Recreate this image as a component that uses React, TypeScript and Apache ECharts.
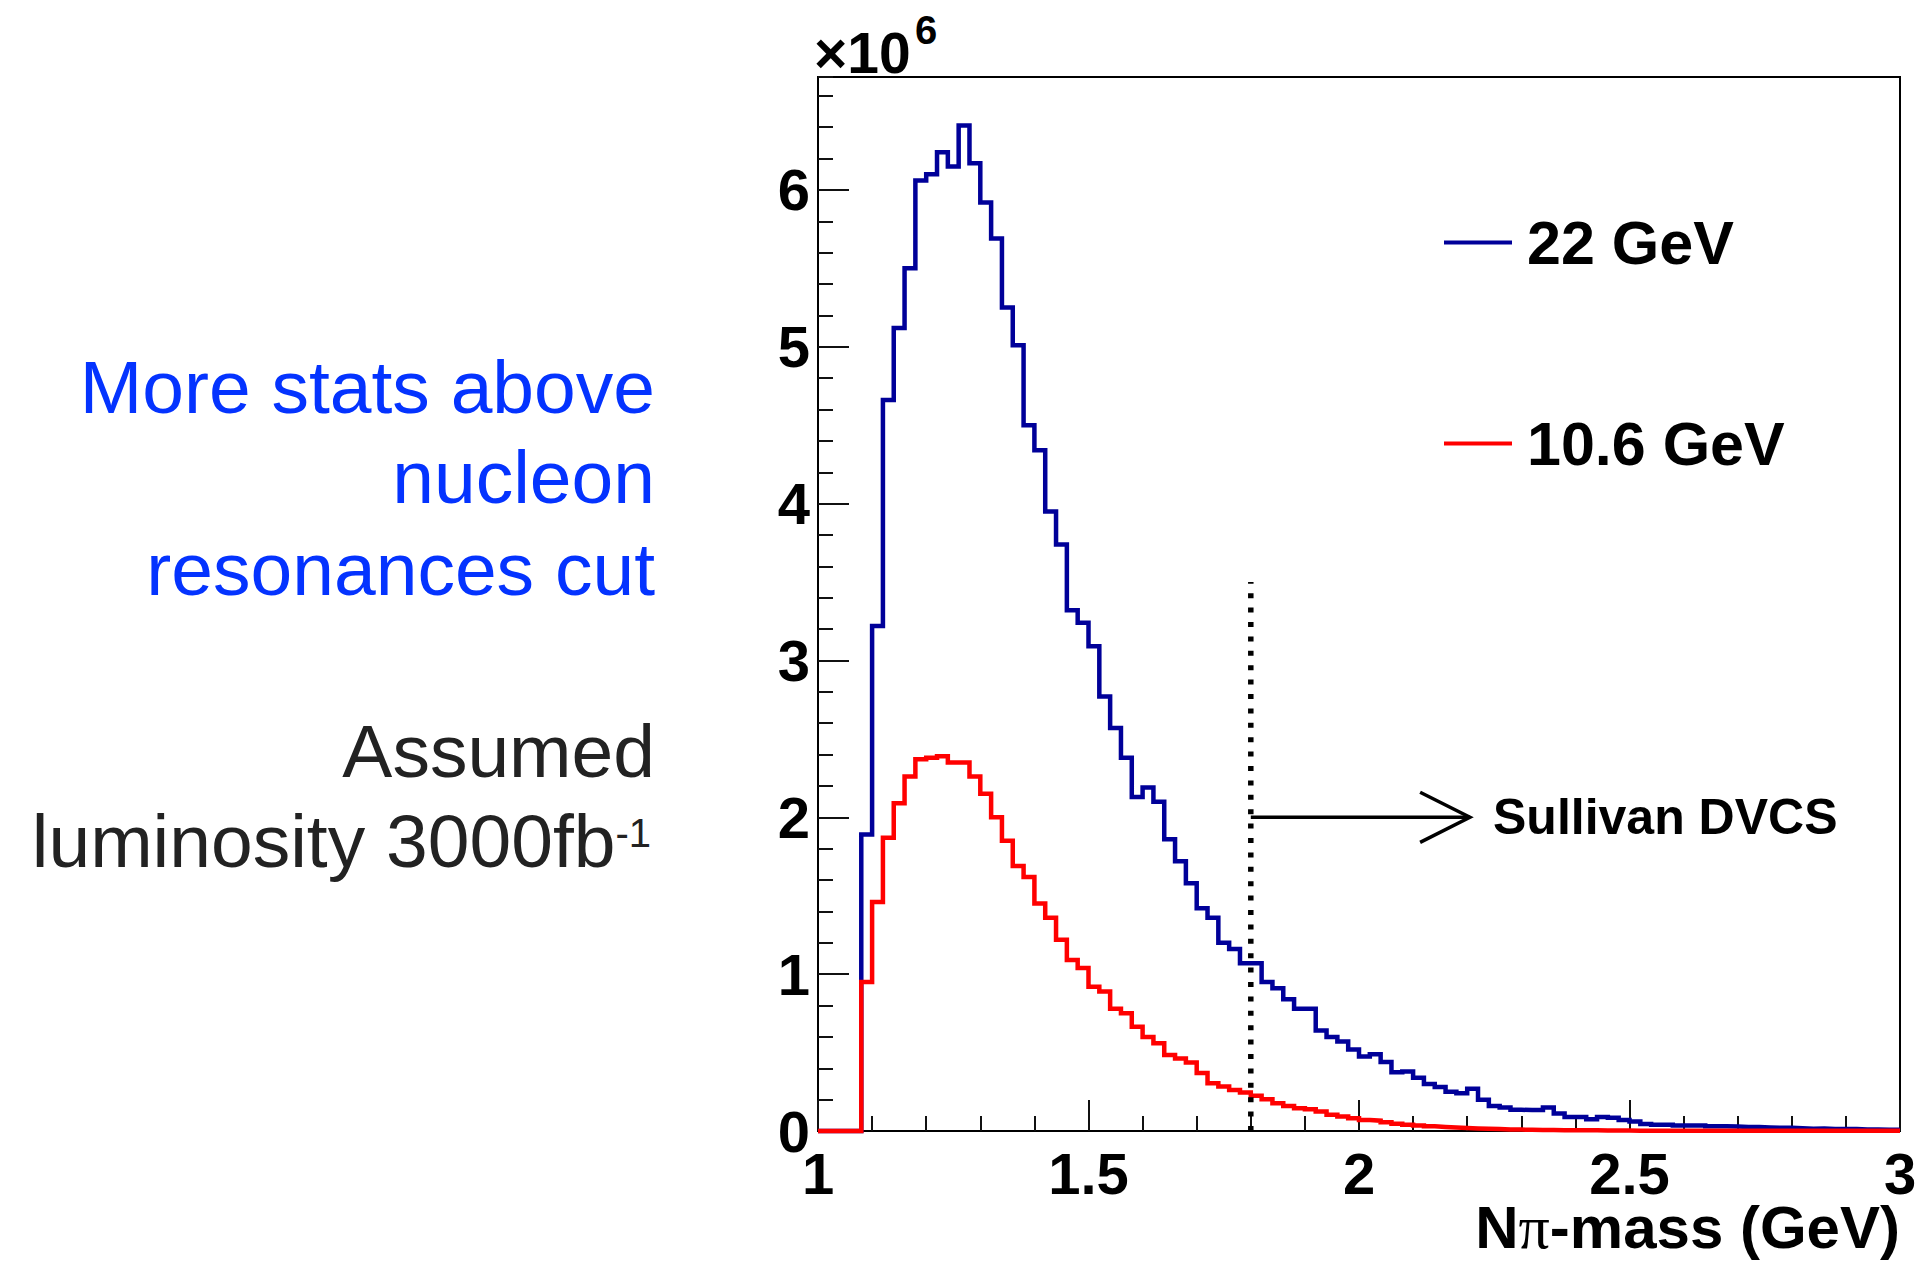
import React, { useEffect, useRef } from 'react';
import * as echarts from 'echarts';

const FONT = '"Liberation Sans", Arial, Helvetica, sans-serif';

// Histogram binning: 100 bins of 0.02 GeV between 1 and 3 GeV
const MASS_MIN = 1.0;
const MASS_MAX = 3.0;
const BIN_WIDTH = 0.02;

// Events per bin, in units of 10^6
const counts22GeV: number[] = [
  0, 0, 0, 0, 1.89, 3.22, 4.66, 5.12, 5.5, 6.06,
  6.1, 6.24, 6.15, 6.41, 6.17, 5.92, 5.69, 5.25, 5.01, 4.5,
  4.34, 3.95, 3.74, 3.32, 3.24, 3.09, 2.77, 2.57, 2.38, 2.13,
  2.19, 2.1, 1.86, 1.72, 1.58, 1.42, 1.36, 1.2, 1.16, 1.07,
  1.07, 0.95, 0.91, 0.84, 0.78, 0.78, 0.64, 0.6, 0.57, 0.52,
  0.475, 0.49, 0.44, 0.375, 0.38, 0.34, 0.3, 0.28, 0.25, 0.24,
  0.27, 0.2, 0.16, 0.15, 0.135, 0.134, 0.134, 0.15, 0.112, 0.09,
  0.09, 0.075, 0.09, 0.085, 0.07, 0.06, 0.045, 0.04, 0.04, 0.035,
  0.035, 0.035, 0.03, 0.03, 0.028, 0.025, 0.025, 0.022, 0.02, 0.02,
  0.018, 0.015, 0.016, 0.012, 0.012, 0.012, 0.01, 0.01, 0.008, 0.008,
];

const counts10p6GeV: number[] = [
  0, 0, 0, 0, 0.95, 1.46, 1.87, 2.09, 2.26, 2.37,
  2.38, 2.39, 2.35, 2.35, 2.26, 2.15, 2.0, 1.85, 1.69, 1.62,
  1.45, 1.36, 1.22, 1.09, 1.04, 0.92, 0.89, 0.78, 0.75, 0.665,
  0.6, 0.56, 0.485, 0.463, 0.436, 0.37, 0.305, 0.283, 0.262, 0.245,
  0.224, 0.202, 0.177, 0.16, 0.145, 0.139, 0.124, 0.103, 0.092, 0.081,
  0.07, 0.066, 0.055, 0.047, 0.04, 0.035, 0.03, 0.026, 0.022, 0.019,
  0.016, 0.014, 0.012, 0.01, 0.009, 0.008, 0.007, 0.006, 0.005, 0.005,
  0.004, 0.004, 0.003, 0.003, 0.003, 0.002, 0.002, 0.002, 0.002, 0.002,
  0.002, 0.002, 0.002, 0.002, 0.002, 0.001, 0.001, 0.001, 0.001, 0.001,
  0.001, 0.001, 0.001, 0.001, 0.001, 0.001, 0.001, 0.001, 0.001, 0.001,
];

const seriesNames = ['22 GeV', '10.6 GeV'];
const seriesColors = ['#000099', '#ff0000'];

// Axis ranges (y in units of 10^6)
const X_MIN = 1;
const X_MAX = 3;
const X_MAJOR = 0.5;
const Y_MIN = 0;
const Y_MAX = 6.72;
const Y_MAJOR = 1;
const Y_MINOR = 0.2;

// Sullivan DVCS cut annotation
const cutMass = 1.8;
const cutTop = 3.5;
const arrowLevel = 2.0;
const arrowTip = 2.205;
const arrowHeadDx = 0.092;
const arrowHeadDy = 0.16;
const cutLabel = 'Sullivan DVCS';

const noteLines = ['More stats above', 'nucleon', 'resonances cut'];
const lumiLines = ['Assumed', 'luminosity 3000fb'];
const lumiExponent = '-1';

// histogram outline: one point per bin low edge plus the closing upper edge
const toSteps = (counts: number[]) => {
  const pts: number[][] = counts.map((c, i) => [+(MASS_MIN + i * BIN_WIDTH).toFixed(2), c]);
  pts.push([MASS_MAX, counts[counts.length - 1]]);
  return pts;
};

const tickStyle = { color: '#111', width: 2 };

const legendFor = (name: string, top: number) => ({
  data: [name],
  left: 1444,
  top,
  orient: 'vertical',
  icon: 'rect',
  itemWidth: 68,
  itemHeight: 4,
  padding: 0,
  selectedMode: false,
  textStyle: {
    fontFamily: FONT,
    fontWeight: 'bold',
    fontSize: 61,
    lineHeight: 60,
    color: '#000',
    padding: [0, 0, 0, 10],
  },
});

const histSeries = (i: number, counts: number[]) => ({
  name: seriesNames[i],
  type: 'line',
  step: 'end',
  data: toSteps(counts),
  symbol: 'none',
  showSymbol: false,
  clip: false,
  silent: true,
  color: seriesColors[i],
  itemStyle: { color: seriesColors[i] },
  lineStyle: { color: seriesColors[i], width: 4.5, join: 'miter', cap: 'butt' },
  z: 3 + i,
});

const annotationLine = (data: number[][], width: number, type: any = 'solid') => ({
  type: 'line',
  data,
  symbol: 'none',
  showSymbol: false,
  silent: true,
  clip: false,
  lineStyle: { color: '#000', width, type, join: 'miter', cap: 'butt' },
  z: 6,
});

const noteText = (text: string, y: number, color: string) => ({
  type: 'text',
  x: 655,
  y,
  silent: true,
  style: {
    text,
    fill: color,
    fontFamily: FONT,
    fontSize: 75,
    align: 'right',
    verticalAlign: 'middle',
  },
});

const option: any = {
  animation: false,
  backgroundColor: '#ffffff',
  grid: {
    left: 818,
    top: 77,
    width: 1082,
    height: 1054,
    show: true,
    borderColor: '#000',
    borderWidth: 2,
    backgroundColor: 'transparent',
    containLabel: false,
    outerBoundsMode: 'none',
  },
  xAxis: {
    type: 'value',
    min: X_MIN,
    max: X_MAX,
    interval: X_MAJOR,
    axisLine: { show: true, onZero: false, lineStyle: { color: '#000', width: 2 } },
    axisTick: { show: true, inside: true, length: 31, lineStyle: tickStyle },
    minorTick: { show: true, splitNumber: 5, length: 15, lineStyle: tickStyle },
    splitLine: { show: false },
    minorSplitLine: { show: false },
    axisLabel: {
      margin: 19,
      fontFamily: FONT,
      fontWeight: 'bold',
      fontSize: 58,
      lineHeight: 46,
      color: '#000',
      showMinLabel: true,
      showMaxLabel: true,
      formatter: (v: number) => String(v),
    },
  },
  yAxis: [
    {
      type: 'value',
      position: 'left',
      min: Y_MIN,
      max: Y_MAX,
      interval: Y_MAJOR,
      axisLine: { show: true, onZero: false, lineStyle: { color: '#000', width: 2 } },
      axisTick: { show: true, inside: true, length: 31, lineStyle: tickStyle },
      splitLine: { show: false },
      axisLabel: {
        margin: 8,
        fontFamily: FONT,
        fontWeight: 'bold',
        fontSize: 58,
        lineHeight: 58,
        color: '#000',
        showMaxLabel: false,
        formatter: (v: number) => (Number.isInteger(v) ? String(v) : ''),
      },
    },
    {
      type: 'value',
      position: 'left',
      offset: 0,
      min: Y_MIN,
      max: Y_MAX,
      interval: Y_MINOR,
      axisLine: { show: false },
      axisTick: { show: true, inside: true, length: 15, lineStyle: tickStyle },
      axisLabel: { show: false },
      splitLine: { show: false },
    },
  ],
  legend: [legendFor(seriesNames[0], 212), legendFor(seriesNames[1], 413)],
  series: [
    histSeries(0, counts22GeV),
    histSeries(1, counts10p6GeV),
    annotationLine([[cutMass, 0], [cutMass, cutTop]], 5.5, [5, 9.4]),
    annotationLine([[cutMass, arrowLevel], [arrowTip, arrowLevel]], 3.5),
    annotationLine(
      [
        [arrowTip - arrowHeadDx, arrowLevel + arrowHeadDy],
        [arrowTip, arrowLevel],
        [arrowTip - arrowHeadDx, arrowLevel - arrowHeadDy],
      ],
      3.5
    ),
  ],
  graphic: [
    {
      type: 'text',
      x: 814,
      y: 53,
      silent: true,
      style: { text: '×10', fill: '#000', fontFamily: FONT, fontWeight: 'bold', fontSize: 57, align: 'left', verticalAlign: 'middle' },
    },
    {
      type: 'text',
      x: 915,
      y: 30,
      silent: true,
      style: { text: '6', fill: '#000', fontFamily: FONT, fontWeight: 'bold', fontSize: 40, align: 'left', verticalAlign: 'middle' },
    },
    {
      type: 'text',
      x: 1900,
      y: 1227,
      silent: true,
      style: {
        text: '{t|N}{p|π}{t|-mass (GeV)}',
        align: 'right',
        verticalAlign: 'middle',
        rich: {
          t: { fontFamily: FONT, fontWeight: 'bold', fontSize: 60, lineHeight: 50, fill: '#000' },
          p: { fontFamily: '"Liberation Serif", "DejaVu Serif", serif', fontWeight: 'normal', fontSize: 62, lineHeight: 50, fill: '#000' },
        },
      },
    },
    {
      type: 'text',
      x: 1493,
      y: 817,
      silent: true,
      style: { text: cutLabel, fill: '#000', fontFamily: FONT, fontWeight: 'bold', fontSize: 50, align: 'left', verticalAlign: 'middle' },
    },
    noteText(noteLines[0], 387, '#0433ff'),
    noteText(noteLines[1], 477, '#0433ff'),
    noteText(noteLines[2], 569, '#0433ff'),
    noteText(lumiLines[0], 751, '#222222'),
    {
      type: 'text',
      x: 651,
      y: 841,
      silent: true,
      style: {
        text: `{m|${lumiLines[1]}}{s|${lumiExponent}}`,
        align: 'right',
        verticalAlign: 'middle',
        rich: {
          m: { fontFamily: FONT, fontSize: 75, lineHeight: 75, fill: '#222222' },
          s: { fontFamily: FONT, fontSize: 40, lineHeight: 40, fill: '#222222', verticalAlign: 'top', padding: [9, 0, 0, 0] },
        },
      },
    },
  ],
};

export default function App() {
  const ref = useRef<HTMLDivElement>(null);
  useEffect(() => {
    if (!ref.current) return;
    const chart = echarts.init(ref.current, null, { renderer: 'svg' });
    chart.setOption(option);
    return () => chart.dispose();
  }, []);
  return (
    <div
      ref={ref}
      style={{ position: 'absolute', left: 0, top: 0, width: 1915, height: 1261, background: '#fff' }}
    />
  );
}
